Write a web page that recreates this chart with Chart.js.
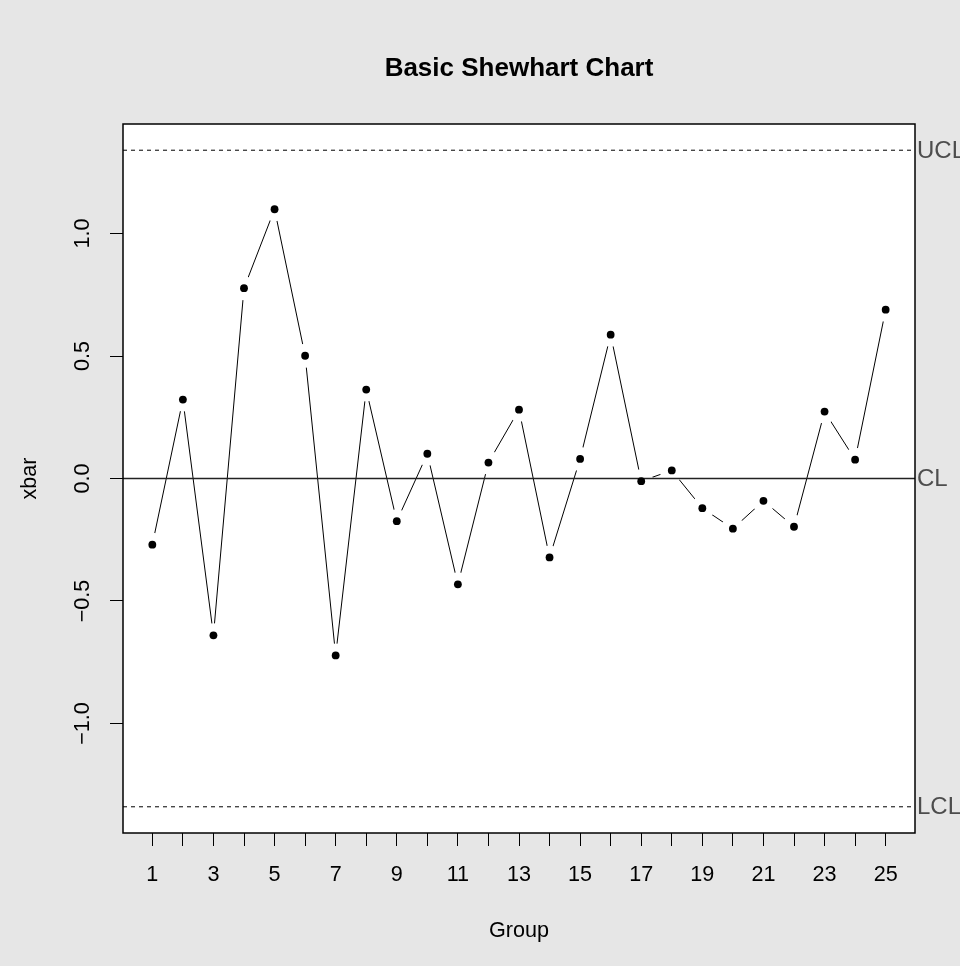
<!DOCTYPE html>
<html>
<head>
<meta charset="utf-8">
<script src="https://cdn.jsdelivr.net/npm/chart.js@4.4.1/dist/chart.umd.min.js"></script>
<style>
  html, body { margin:0; padding:0; background:#e6e6e6; }
  canvas { display:block; }
</style>
</head>
<body>
<canvas id="qcc" width="960" height="966" style="width:960px;height:966px"></canvas>
<script>
// --------- DATA ----------
const groups = [1,2,3,4,5,6,7,8,9,10,11,12,13,14,15,16,17,18,19,20,21,22,23,24,25];
const xbar = [-0.270, 0.322, -0.640, 0.777, 1.099, 0.501, -0.722, 0.363, -0.174, 0.101,
              -0.432, 0.065, 0.281, -0.322, 0.080, 0.587, -0.011, 0.033, -0.121, -0.205,
              -0.091, -0.197, 0.273, 0.077, 0.689];
const centerLine = 0;
const upperLimit = 1.34;
const lowerLimit = -1.34;
const yTickValues = [-1, -0.5, 0, 0.5, 1];
const xTickValues = groups;
const xLabelValues = [1,3,5,7,9,11,13,15,17,19,21,23,25];

// --------- HELPERS ----------
const FONT = "'Liberation Sans', Arial, Helvetica, sans-serif";
const xMin = 0.04, xMax = 25.96;
const yMin = -1.447, yMax = 1.447;
const pts = groups.map((g,i)=>({x:g, y:xbar[i]}));
const hline = v => [{x:xMin, y:v}, {x:xMax, y:v}];
const fmtY = v => (v<0 ? '\u2212' : '') + Math.abs(v).toFixed(1);

Chart.defaults.font.family = FONT;
Chart.defaults.color = '#000';

const panelPlugin = {
  id:'panel',
  beforeDraw(chart){
    const {ctx, chartArea:a} = chart;
    ctx.save();
    ctx.fillStyle = '#e6e6e6';
    ctx.fillRect(0, 0, chart.width, chart.height);
    ctx.fillStyle = '#ffffff';
    ctx.fillRect(a.left, a.top, a.right-a.left, a.bottom-a.top);
    ctx.restore();
  },
  afterDraw(chart){
    const {ctx, chartArea:a, scales} = chart;
    const midX = (a.left+a.right)/2, midY = (a.top+a.bottom)/2;
    ctx.save();
    ctx.strokeStyle = '#000';
    ctx.lineWidth = 1.5;
    ctx.strokeRect(a.left, a.top, a.right-a.left, a.bottom-a.top);

    ctx.fillStyle = '#000';
    ctx.textAlign = 'center';
    ctx.textBaseline = 'middle';
    ctx.font = 'bold 26px ' + FONT;
    ctx.fillText('Basic Shewhart Chart', midX, 69);

    ctx.font = '21.6px ' + FONT;
    ctx.fillText('Group', midX, 931);

    // y tick labels, rotated like R's default axis
    yTickValues.forEach(v=>{
      ctx.save();
      ctx.translate(83, scales.y.getPixelForValue(v));
      ctx.rotate(-Math.PI/2);
      ctx.fillText(fmtY(v), 0, 0);
      ctx.restore();
    });
    ctx.save();
    ctx.translate(30, midY);
    ctx.rotate(-Math.PI/2);
    ctx.fillText('xbar', 0, 0);
    ctx.restore();

    ctx.fillStyle = '#4d4d4d';
    ctx.textAlign = 'left';
    ctx.font = '24px ' + FONT;
    [['UCL', upperLimit], ['CL', centerLine], ['LCL', lowerLimit]].forEach(([t,v])=>{
      ctx.fillText(t, a.right + 2, scales.y.getPixelForValue(v) + 1);
    });
    ctx.restore();
  }
};

new Chart(document.getElementById('qcc'), {
  type:'line',
  data:{
    datasets:[
      {label:'xbar line', data:pts, borderColor:'#000', borderWidth:1, pointRadius:0, order:5},
      {label:'gap', data:pts, showLine:false, pointRadius:12, pointBackgroundColor:'#fff', pointBorderWidth:0, pointBorderColor:'#fff', order:4},
      {label:'CL', data:hline(centerLine), borderColor:'#222', borderWidth:1.4, pointRadius:0, order:2},
      {label:'UCL', data:hline(upperLimit), borderColor:'#000', borderWidth:1, borderDash:[4,4], pointRadius:0, order:2},
      {label:'LCL', data:hline(lowerLimit), borderColor:'#000', borderWidth:1, borderDash:[4,4], pointRadius:0, order:2},
      {label:'xbar', data:pts, showLine:false, pointRadius:3.9, pointBackgroundColor:'#000', pointBorderWidth:0, order:1}
    ]
  },
  options:{
    responsive:false,
    animation:false,
    devicePixelRatio:1,
    layout:{padding:{top:124, right:45, bottom:0, left:0}},
    plugins:{legend:{display:false}, tooltip:{enabled:false}, title:{display:false}},
    scales:{
      x:{
        type:'linear', min:xMin, max:xMax,
        afterBuildTicks: s => { s.ticks = xTickValues.map(v=>({value:v})); },
        afterFit: s => { s.height = 133; },
        ticks:{autoSkip:false, maxRotation:0, minRotation:0, padding:16, font:{size:21.6},
               callback: v => xLabelValues.includes(v) ? String(v) : ''},
        grid:{drawOnChartArea:false, drawTicks:true, tickLength:13, color:'#000', lineWidth:1},
        border:{display:false}
      },
      y:{
        type:'linear', min:yMin, max:yMax,
        afterBuildTicks: s => { s.ticks = yTickValues.map(v=>({value:v})); },
        afterFit: s => { s.width = 123; },
        ticks:{display:false},
        grid:{drawOnChartArea:false, drawTicks:true, tickLength:13, color:'#000', lineWidth:1},
        border:{display:false}
      }
    }
  },
  plugins:[panelPlugin]
});
</script>
</body>
</html>
